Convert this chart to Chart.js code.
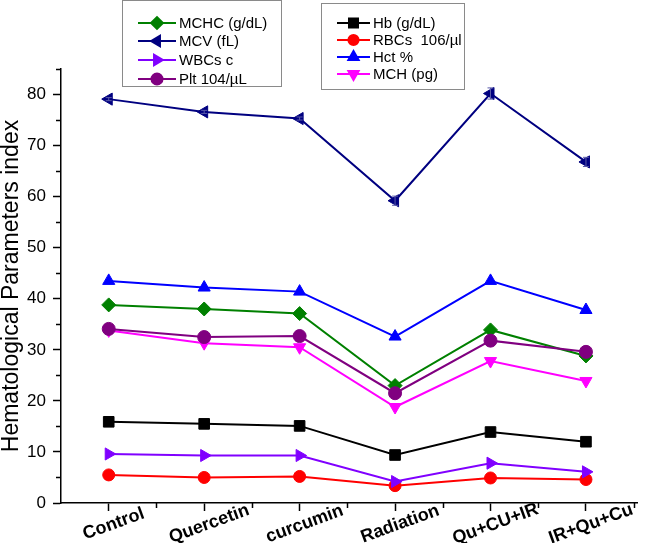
<!DOCTYPE html>
<html>
<head>
<meta charset="utf-8">
<script src="https://cdn.jsdelivr.net/npm/chart.js@4.4.1/dist/chart.umd.min.js"></script>
<style>
html, body { margin: 0; padding: 0; background: #fff; }
#wrap { width: 646px; height: 543px; position: relative; }
</style>
</head>
<body>
<div id="wrap"><canvas id="chart"></canvas></div>
<script>
// groups on the x axis (positions 1..6)
var groups = ['Control', 'Quercetin', 'curcumin', 'Radiation', 'Qu+CU+IR', 'IR+Qu+Cu'];

// series values
var hb   = [15.9, 15.5, 15.1, 9.4, 13.9, 12.0];
var rbcs = [5.5, 5.0, 5.2, 3.4, 4.9, 4.6];
var hct  = [43.5, 42.2, 41.4, 32.6, 43.5, 37.8];
var mch  = [33.8, 31.3, 30.5, 18.8, 27.8, 23.9];
var mchc = [38.8, 38.0, 37.1, 23.0, 33.9, 28.8];
var mcv  = [79.1, 76.6, 75.3, 59.2, 80.2, 66.8];
var wbcs = [9.6, 9.3, 9.3, 4.2, 7.8, 6.1];
var plt  = [34.1, 32.5, 32.7, 21.5, 31.8, 29.6];
var mcvErr = [0.3, 0.3, 0.3, 0.9, 1.1, 0.9];

var yTicks = [0, 10, 20, 30, 40, 50, 60, 70, 80];
var yTitle = 'Hematological Parameters index';

var FONT = "'Liberation Sans', Arial, sans-serif";

function pts(values) {
    return values.map(function(v, i) { return {x: i + 1, y: v}; });
}

function series(label, values, color, style, rotation, radius) {
    return {
        label: label,
        data: pts(values),
        borderColor: color,
        backgroundColor: color,
        borderWidth: 2,
        pointStyle: style,
        rotation: rotation,
        pointRadius: radius,
        pointBorderWidth: 1,
        pointBackgroundColor: color,
        pointBorderColor: color
    };
}

// plotting order as in the original figure: later ones on top
var datasets = [
    series('Hb (g/dL)', hb, '#000000', 'rect', 0, 7.5),
    series('RBCs  106/\u00b5l', rbcs, '#ff0000', 'circle', 0, 6),
    series('Hct %', hct, '#0000ff', 'triangle', 0, 7),
    series('MCH (pg)', mch, '#ff00ff', 'triangle', 180, 7),
    series('MCHC (g/dL)', mchc, '#008000', 'rectRot', 0, 7),
    series('MCV (fL)', mcv, '#000080', 'triangle', -90, 7),
    series('WBCs c', wbcs, '#8000ff', 'triangle', 90, 7),
    series('Plt 104/\u00b5L', plt, '#800080', 'circle', 0, 6.5)
];
datasets.forEach(function(d, i) { d.order = datasets.length - i; });

var minorTicks = {
    id: 'minorTicks',
    afterDraw: function(chart) {
        var ctx = chart.ctx, xs = chart.scales.x, ys = chart.scales.y;
        ctx.save();
        ctx.strokeStyle = '#000';
        ctx.lineWidth = 1.5;
        ctx.beginPath();
        for (var v = 5; v <= 85; v += 10) {
            var y = Math.round(ys.getPixelForValue(v)) + 0.5;
            ctx.moveTo(xs.left - 5, y);
            ctx.lineTo(xs.left, y);
        }
        for (var k = 1.5; k < xs.max; k += 1) {
            var x = Math.round(xs.getPixelForValue(k)) + 0.5;
            ctx.moveTo(x, ys.bottom);
            ctx.lineTo(x, ys.bottom + 5);
        }
        ctx.stroke();
        ctx.restore();
    }
};

var groupLabels = {
    id: 'groupLabels',
    afterDraw: function(chart) {
        var ctx = chart.ctx, xs = chart.scales.x, ys = chart.scales.y;
        ctx.save();
        ctx.fillStyle = '#000';
        ctx.font = 'bold 18px ' + FONT;
        ctx.textAlign = 'center';
        ctx.textBaseline = 'middle';
        groups.forEach(function(g, i) {
            ctx.save();
            ctx.translate(xs.getPixelForValue(i + 1) + 5, ys.bottom + 21);
            ctx.rotate(-20 * Math.PI / 180);
            ctx.fillText(g, 0, 0);
            ctx.restore();
        });
        ctx.restore();
    }
};

var errorBars = {
    id: 'errorBars',
    afterDatasetsDraw: function(chart) {
        var ctx = chart.ctx, xs = chart.scales.x, ys = chart.scales.y;
        ctx.save();
        ctx.strokeStyle = '#5a5aa8';
        ctx.lineWidth = 1;
        ctx.beginPath();
        mcv.forEach(function(v, i) {
            var x = xs.getPixelForValue(i + 1);
            var y0 = ys.getPixelForValue(v - mcvErr[i]);
            var y1 = ys.getPixelForValue(v + mcvErr[i]);
            ctx.moveTo(x, y0); ctx.lineTo(x, y1);
            ctx.moveTo(x - 3, y0); ctx.lineTo(x + 3, y0);
            ctx.moveTo(x - 3, y1); ctx.lineTo(x + 3, y1);
        });
        ctx.stroke();
        ctx.restore();
    }
};

var boxLegends = {
    id: 'boxLegends',
    afterDraw: function(chart) {
        var ctx = chart.ctx;
        var boxes = [
            {rect: [122.5, 0.5, 159, 86], rows: [4, 5, 6, 7], ys: [23, 41, 60, 79], x0: 138, x1: 176, tx: 179},
            {rect: [321.5, 3.5, 143, 86], rows: [0, 1, 2, 3], ys: [23, 40, 57, 74], x0: 337, x1: 370, tx: 373}
        ];
        ctx.save();
        boxes.forEach(function(b) {
            ctx.strokeStyle = '#8a8a8a';
            ctx.lineWidth = 1;
            ctx.strokeRect(b.rect[0], b.rect[1], b.rect[2], b.rect[3]);
            b.rows.forEach(function(di, r) {
                var ds = chart.data.datasets[di];
                var y = b.ys[r];
                ctx.strokeStyle = ds.borderColor;
                ctx.lineWidth = 2;
                ctx.beginPath();
                ctx.moveTo(b.x0, y);
                ctx.lineTo(b.x1, y);
                ctx.stroke();
                ctx.fillStyle = ds.backgroundColor;
                Chart.helpers.drawPoint(ctx, {
                    pointStyle: ds.pointStyle,
                    rotation: ds.rotation,
                    radius: ds.pointRadius * 0.85,
                    borderWidth: 1
                }, (b.x0 + b.x1) / 2, y);
                ctx.fillStyle = '#000';
                ctx.font = '15px ' + FONT;
                ctx.textAlign = 'left';
                ctx.textBaseline = 'middle';
                ctx.fillText(ds.label, b.tx, y + 1);
            });
        });
        ctx.restore();
    }
};

new Chart(document.getElementById('chart'), {
    type: 'line',
    data: {datasets: datasets},
    options: {
        responsive: true,
        maintainAspectRatio: false,
        animation: false,
        layout: {padding: {top: 69, right: 0, left: 0, bottom: 0}},
        plugins: {legend: {display: false}, tooltip: {enabled: false}},
        scales: {
            x: {
                type: 'linear',
                min: 0.5,
                max: 6.54,
                afterFit: function(s) { s.height = 40; },
                afterBuildTicks: function(s) {
                    s.ticks = groups.map(function(g, i) { return {value: i + 1}; });
                },
                ticks: {display: false},
                grid: {drawOnChartArea: false, tickLength: 8, color: '#000', tickWidth: 1.5},
                border: {color: '#000', width: 1.5}
            },
            y: {
                min: 0,
                max: 85,
                afterFit: function(s) { s.width = 61; },
                afterBuildTicks: function(s) {
                    s.ticks = yTicks.map(function(v) { return {value: v}; });
                },
                ticks: {color: '#000', padding: 7, font: {family: FONT, size: 17}},
                grid: {drawOnChartArea: false, tickLength: 8, color: '#000', tickWidth: 1.5},
                border: {color: '#000', width: 1.5},
                title: {display: true, text: yTitle, color: '#000', padding: {top: 0, bottom: 0}, font: {family: FONT, size: 23, lineHeight: 1}}
            }
        }
    },
    plugins: [minorTicks, errorBars, groupLabels, boxLegends]
});
</script>
</body>
</html>
